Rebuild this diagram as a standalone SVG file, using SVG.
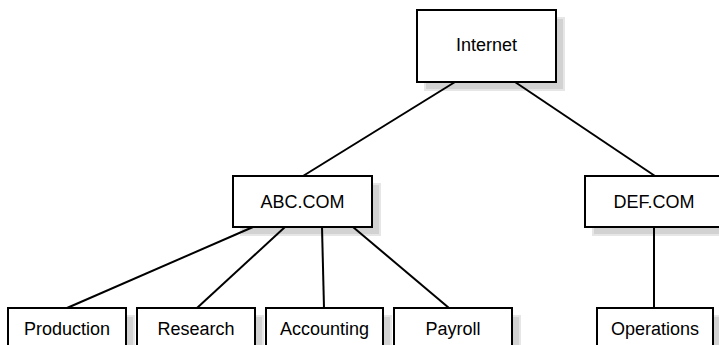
<svg xmlns="http://www.w3.org/2000/svg" width="719" height="345" viewBox="0 0 719 345">
<style>
.shadow{fill:#d2d2d2;stroke:#e6e6e6;stroke-width:2}
.box{fill:#fff;stroke:#000;stroke-width:2}
.lbl{font-family:"Liberation Sans",Arial,sans-serif;font-size:18px;fill:#000;text-anchor:middle}
.conn line{stroke:#000;stroke-width:2}
</style>
<rect width="719" height="345" fill="#fff"/>
<g id="shadows">
<rect class="shadow" x="425" y="18" width="139" height="72"/>
<rect class="shadow" x="241" y="184" width="139" height="51"/>
<rect class="shadow" x="593" y="184" width="139" height="51"/>
<rect class="shadow" x="16" y="316" width="118" height="50"/>
<rect class="shadow" x="145" y="316" width="118" height="50"/>
<rect class="shadow" x="274" y="316" width="117" height="50"/>
<rect class="shadow" x="402" y="316" width="118" height="50"/>
<rect class="shadow" x="605" y="316" width="116" height="50"/>
</g>
<g class="conn" id="connectors">
<line x1="455" y1="82" x2="303" y2="176"/>
<line x1="515" y1="82" x2="655" y2="176"/>
<line x1="253" y1="227" x2="67" y2="308"/>
<line x1="285" y1="227" x2="197" y2="308"/>
<line x1="322" y1="227" x2="324" y2="308"/>
<line x1="353" y1="227" x2="449" y2="308"/>
<line x1="654" y1="227" x2="654" y2="308"/>
</g>
<g id="internet"><rect class="box" x="417" y="10" width="139" height="72"/><text class="lbl" x="486.5" y="51">Internet</text></g>
<g id="abc"><rect class="box" x="233" y="176" width="139" height="51"/><text class="lbl" x="302.5" y="208">ABC.COM</text></g>
<g id="def"><rect class="box" x="585" y="176" width="139" height="51"/><text class="lbl" x="654" y="208">DEF.COM</text></g>
<g id="production"><rect class="box" x="8" y="308" width="118" height="50"/><text class="lbl" x="67" y="335">Production</text></g>
<g id="research"><rect class="box" x="137" y="308" width="118" height="50"/><text class="lbl" x="196" y="335">Research</text></g>
<g id="accounting"><rect class="box" x="266" y="308" width="117" height="50"/><text class="lbl" x="324.5" y="335">Accounting</text></g>
<g id="payroll"><rect class="box" x="394" y="308" width="118" height="50"/><text class="lbl" x="453" y="335">Payroll</text></g>
<g id="operations"><rect class="box" x="597" y="308" width="116" height="50"/><text class="lbl" x="655" y="335">Operations</text></g>
</svg>
